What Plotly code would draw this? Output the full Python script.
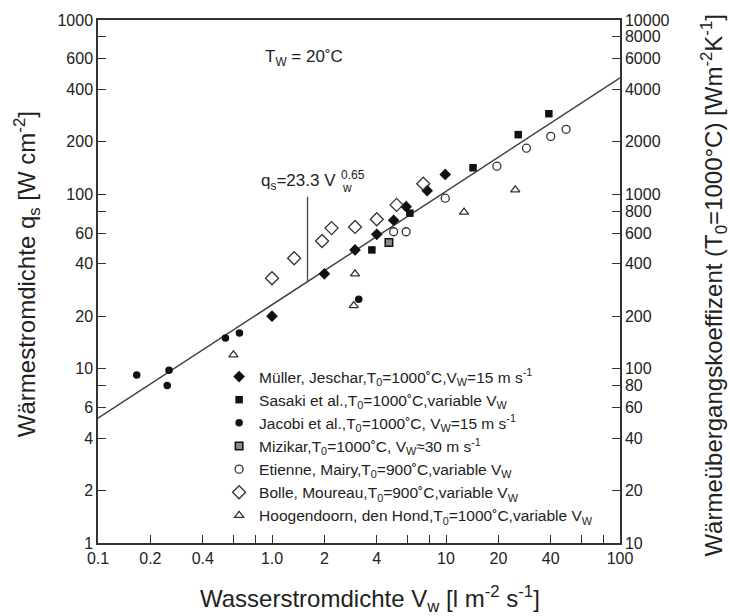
import plotly.graph_objects as go

# ---------------- data ----------------
muller_v = [1.0, 2.0, 3.0, 4.0, 5.0, 5.9, 7.8, 9.9]
muller_q = [20, 35, 48, 59, 71, 85, 105, 130]

sasaki_v = [3.75, 6.2, 14.3, 26, 39]
sasaki_q = [48, 78, 142, 220, 290]

jacobi_v = [0.167, 0.25, 0.256, 0.54, 0.65, 3.15]
jacobi_q = [9.2, 8.0, 9.8, 15, 16, 25]

mizikar_v = [4.7]
mizikar_q = [53]

etienne_v = [5.0, 5.9, 9.9, 19.6, 29, 40, 49]
etienne_q = [61, 61, 95, 145, 184, 215, 236]

bolle_v = [1.0, 1.34, 1.94, 2.2, 3.0, 4.0, 5.2, 7.4]
bolle_q = [33, 43, 54, 64, 65, 72, 87, 115]

hoog_v = [0.6, 2.95, 3.0, 12.7, 25]
hoog_q = [12, 23, 35, 79, 106]

fit_v = [0.1, 100]
fit_q = [5.2, 465]

x_tickvals = [0.1, 0.2, 0.4, 0.6, 0.8, 1, 2, 4, 6, 8, 10, 20, 40, 60, 80, 100]
x_ticktext = ["0.1", "0.2", "0.4", "", "", "1.0", "2", "4", "", "", "10", "20", "40", "", "", "100"]
y_tickvals = [1, 2, 4, 6, 8, 10, 20, 40, 60, 80, 100, 200, 400, 600, 800, 1000]
y_ticktext = ["1", "2", "4", "6", "", "10", "20", "40", "60", "", "100", "200", "400", "600", "", "1000"]
y2_tickvals = [10, 20, 40, 60, 80, 100, 200, 400, 600, 800, 1000, 2000, 4000, 6000, 8000, 10000]
y2_ticktext = [str(v) for v in y2_tickvals]

# ---------------- figure ----------------
FONT = "Liberation Sans, Arial, Helvetica, sans-serif"
INK = "#222222"
fig = go.Figure()

fig.add_trace(go.Scatter(x=fit_v, y=fit_q, mode="lines",
                         line=dict(color="#444444", width=1.5),
                         showlegend=False, hoverinfo="skip"))

def add(name, xs, ys, symbol, size, fill, line_color=INK, lw=0):
    fig.add_trace(go.Scatter(
        x=xs, y=ys, mode="markers", name=name,
        marker=dict(symbol=symbol, size=size, color=fill,
                    line=dict(color=line_color, width=lw))))

add("Müller, Jeschar,T<sub>0</sub>=1000˚C,V<sub>W</sub>=15 m s<sup>-1</sup>",
    muller_v, muller_q, "diamond", 9, "#111111")
add("Sasaki et al.,T<sub>0</sub>=1000˚C,variable V<sub>W</sub>",
    sasaki_v, sasaki_q, "square", 7.5, "#111111")
add("Jacobi et al.,T<sub>0</sub>=1000˚C, V<sub>W</sub>=15 m s<sup>-1</sup>",
    jacobi_v, jacobi_q, "circle", 7.5, "#111111")
add("Mizikar,T<sub>0</sub>=1000˚C, V<sub>W</sub>≈30 m s<sup>-1</sup>",
    mizikar_v, mizikar_q, "square", 7.5, "#8a8a8a", "#111111", 1.5)
add("Etienne, Mairy,T<sub>0</sub>=900˚C,variable V<sub>W</sub>",
    etienne_v, etienne_q, "circle-open", 8, "#333333", "#333333", 1.3)
add("Bolle, Moureau,T<sub>0</sub>=900˚C,variable V<sub>W</sub>",
    bolle_v, bolle_q, "diamond-open", 10, "#333333", "#333333", 1.3)
add("Hoogendoorn, den Hond,T<sub>0</sub>=1000˚C,variable V<sub>W</sub>",
    hoog_v, hoog_q, "triangle-up-open", 8, "#333333", "#333333", 1.3)

# empty trace that binds the right-hand axis so that it is drawn
fig.add_trace(go.Scatter(x=[], y=[], yaxis="y2", mode="markers",
                         showlegend=False, hoverinfo="skip"))

axis_common = dict(type="log", ticks="inside", ticklen=8, tickwidth=1.2,
                   tickcolor="#333333", showline=True, linecolor="#333333",
                   linewidth=1.5, showgrid=False, zeroline=False,
                   tickfont=dict(family=FONT, size=16, color=INK))

fig.update_layout(
    width=730, height=616,
    margin=dict(l=98, r=110, t=17, b=73),
    paper_bgcolor="white", plot_bgcolor="white",
    font=dict(family=FONT, color=INK),
    xaxis=dict(range=[-1, 2], tickvals=x_tickvals, ticktext=x_ticktext,
               mirror=True, **axis_common),
    yaxis=dict(range=[0, 3], tickvals=y_tickvals, ticktext=y_ticktext,
               **axis_common),
    yaxis2=dict(range=[1, 4], tickvals=y2_tickvals, ticktext=y2_ticktext,
                overlaying="y", side="right", **axis_common),
    legend=dict(x=0.232, y=0.35, xanchor="left", yanchor="top",
                bgcolor="rgba(0,0,0,0)", borderwidth=0,
                font=dict(family=FONT, size=15.5, color=INK),
                itemwidth=30, tracegroupgap=0),
    showlegend=True,
)

anns = [
    dict(text="Wasserstromdichte V<sub>w</sub> [l m<sup>-2</sup> s<sup>-1</sup>]",
         x=0.521, y=-0.108, xref="paper", yref="paper", showarrow=False,
         xanchor="center", yanchor="middle", font=dict(size=24)),
    dict(text="Wärmestromdichte q<sub>s</sub> [W cm<sup>-2</sup>]",
         x=-0.137, y=0.515, xref="paper", yref="paper", showarrow=False,
         textangle=-90, xanchor="center", yanchor="middle", font=dict(size=24)),
    dict(text="Wärmeübergangskoeffizent (T<sub>0</sub>=1000°C) [Wm<sup>-2</sup>K<sup>-1</sup>]",
         x=1.180, y=0.494, xref="paper", yref="paper", showarrow=False,
         textangle=-90, xanchor="center", yanchor="middle", font=dict(size=24)),
    dict(text="T<sub>W</sub> = 20˚C", x=0.316, y=0.928, xref="paper", yref="paper",
         showarrow=False, xanchor="left", yanchor="middle", font=dict(size=17)),
    dict(text="q<sub>s</sub>=23.3 V", x=0.308, y=0.690, xref="paper", yref="paper",
         showarrow=False, xanchor="left", yanchor="middle", font=dict(size=17)),
    dict(text="0.65", x=0.461, y=0.703, xref="paper", yref="paper",
         showarrow=False, xanchor="left", yanchor="middle", font=dict(size=12)),
    dict(text="w", x=0.463, y=0.679, xref="paper", yref="paper",
         showarrow=False, xanchor="left", yanchor="middle", font=dict(size=12)),
]
for a in anns:
    a["font"].setdefault("family", FONT)
    a["font"].setdefault("color", INK)
fig.update_layout(annotations=anns)

fig.add_shape(type="line", xref="x", yref="y", x0=1.6, x1=1.6, y0=31.5, y1=97,
              line=dict(color="#444444", width=1.3))

fig.write_html("out.html")
